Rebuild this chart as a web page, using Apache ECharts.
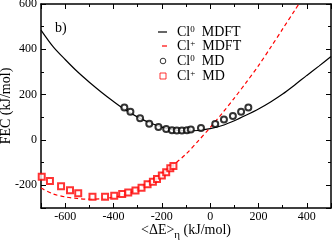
<!DOCTYPE html>
<html>
<head>
<meta charset="utf-8">
<script src="https://cdn.jsdelivr.net/npm/echarts@6/dist/echarts.min.js"></script>
<style>
html,body{margin:0;padding:0;background:#fff;}
#c{width:332px;height:241px;}
</style>
</head>
<body>
<div id="c"></div>
<script>
// ---- data ----
const curveX = [-700,-650,-600,-550,-500,-450,-400,-350,-300,-250,-200,-150,-100,-50,0,50,100,150,200,250,300,350,400,450,500];
const cl0Mdft = [485,412,355,302,255,211,170,132,101,76,57,45,40,42,50,64,85,110,137,168,203,243,285,326,368];
const clpMdft = [-212,-238,-251,-258,-261,-259,-253,-240,-218,-180,-146,-108,-62,-5,55,118,185,255,328,408,490,572,655,null,null];

const cl0MdX = [-355,-330,-290,-252,-214,-182,-158,-138,-117,-96,-80,-38,21,57,94,128,158];
const cl0MdY = [143,125,96,72,57,48,43,42,42,43,46,53,71,90,106,125,143];

const clpMdX = [-697,-663,-617,-580,-546,-487,-435,-397,-364,-339,-309,-284,-259,-237,-220,-200,-182,-165,-152];
const clpMdY = [-162,-181,-204,-222,-235,-250,-250,-246,-238,-232,-223,-211,-195,-184,-172,-157,-142,-125,-115];

const legendNames = ['Cl0 MDFT','Cl+ MDFT','Cl0 MD','Cl+ MD'];

const xMin = -700, xMax = 500, yMin = -300, yMax = 600;
const minorStep = 100;

function zip(xs, ys){ const out=[]; for(let i=0;i<xs.length;i++){ if(ys[i]!==null) out.push([xs[i], ys[i]]); } return out; }

const FONT = 'Liberation Serif';
const axisLineStyle = {color:'#000', width:1.5};
function majorLabel(v){ return (v % 200 === 0) ? String(v) : ''; }

const chart = echarts.init(document.getElementById('c'), null, {renderer:'canvas'});
const gridRect = {left:41, right:1, top:4, bottom:33, containLabel:false, outerBoundsMode:'none'};

// legend built from graphic elements
const legRowY = [32, 46, 61, 76];
const legText = legendNames.map(function(n){
  const p = n.split(' ');
  return '{a|Cl}{sup|' + p[0].slice(2) + '}{a|  ' + p[1] + '}';
});
const richLeg = {
  a:{fontFamily:FONT, fontSize:14, fill:'#000', color:'#000', lineHeight:14, verticalAlign:'middle'},
  sup:{fontFamily:FONT, fontSize:9, fill:'#000', color:'#000', lineHeight:9, verticalAlign:'top'}
};
const graphics = [
  {type:'text', left:55, top:21, z:10, style:{text:'b)', font:'14px "Liberation Serif"', fill:'#000'}},
  {type:'line', z:10, shape:{x1:158, y1:legRowY[0], x2:167, y2:legRowY[0]}, style:{stroke:'#000', lineWidth:1.2}},
  {type:'line', z:10, shape:{x1:162, y1:legRowY[1], x2:167, y2:legRowY[1]}, style:{stroke:'#ff0000', lineWidth:1.2}},
  {type:'circle', z:10, shape:{cx:163, cy:legRowY[2], r:2.8}, style:{stroke:'#000', fill:'none', lineWidth:0.8}},
  {type:'rect', z:10, shape:{x:160, y:legRowY[3]-3, width:6, height:6}, style:{stroke:'#ff0000', fill:'none', lineWidth:0.8}}
];
legText.forEach(function(t, i){
  graphics.push({type:'text', z:10, x:177, y:legRowY[i], style:{text:t, rich:richLeg, verticalAlign:'middle', align:'left'}});
});

const option = {
  animation:false,
  backgroundColor:'#fff',
  grid:[Object.assign({}, gridRect), Object.assign({}, gridRect)],
  xAxis:[
    {type:'value', gridIndex:0, min:xMin, max:xMax, position:'bottom',
     axisLine:{show:true, onZero:false, lineStyle:axisLineStyle},
     axisTick:{show:true, inside:true, length:5, lineStyle:{color:'#000', width:1}},
     axisLabel:{show:true, formatter:majorLabel, color:'#000', fontFamily:FONT, fontSize:12, margin:3, showMinLabel:true, showMaxLabel:true},
     splitLine:{show:false},
     name:'{a|<ΔE>}{sub|η}{a| (kJ/mol)}', nameLocation:'middle', nameGap:15, nameMoveOverlap:false,
     nameTextStyle:{rich:{
       a:{fontFamily:FONT, fontSize:14, color:'#000', lineHeight:14, verticalAlign:'top'},
       sub:{fontFamily:FONT, fontSize:11, color:'#000', lineHeight:18, verticalAlign:'bottom'}
     }}
    },
    {type:'value', gridIndex:0, min:xMin, max:xMax, position:'top',
     axisLine:{show:true, onZero:false, lineStyle:axisLineStyle},
     axisTick:{show:true, inside:true, length:5, lineStyle:{color:'#000', width:1}},
     axisLabel:{show:false}, splitLine:{show:false}
    },
    {type:'value', gridIndex:1, min:xMin, max:xMax, interval:minorStep, position:'bottom',
     axisLine:{show:false, onZero:false},
     axisTick:{show:true, inside:true, length:3, lineStyle:{color:'#000', width:1}},
     axisLabel:{show:false}, splitLine:{show:false}
    },
    {type:'value', gridIndex:1, min:xMin, max:xMax, interval:minorStep, position:'top',
     axisLine:{show:false, onZero:false},
     axisTick:{show:true, inside:true, length:3, lineStyle:{color:'#000', width:1}},
     axisLabel:{show:false}, splitLine:{show:false}
    }
  ],
  yAxis:[
    {type:'value', gridIndex:0, min:yMin, max:yMax, position:'left',
     axisLine:{show:true, onZero:false, lineStyle:axisLineStyle},
     axisTick:{show:true, inside:true, length:5, lineStyle:{color:'#000', width:1}},
     axisLabel:{show:true, formatter:majorLabel, color:'#000', fontFamily:FONT, fontSize:12, margin:4},
     splitLine:{show:false},
     name:'FEC (kJ/mol)', nameLocation:'middle', nameGap:28, nameRotate:90, nameMoveOverlap:false,
     nameTextStyle:{fontFamily:FONT, fontSize:14, color:'#000'}
    },
    {type:'value', gridIndex:0, min:yMin, max:yMax, position:'right',
     axisLine:{show:true, onZero:false, lineStyle:axisLineStyle},
     axisTick:{show:true, inside:true, length:5, lineStyle:{color:'#000', width:1}},
     axisLabel:{show:false}, splitLine:{show:false}
    },
    {type:'value', gridIndex:1, min:yMin, max:yMax, interval:minorStep, position:'left',
     axisLine:{show:false, onZero:false},
     axisTick:{show:true, inside:true, length:3, lineStyle:{color:'#000', width:1}},
     axisLabel:{show:false}, splitLine:{show:false}
    },
    {type:'value', gridIndex:1, min:yMin, max:yMax, interval:minorStep, position:'right',
     axisLine:{show:false, onZero:false},
     axisTick:{show:true, inside:true, length:3, lineStyle:{color:'#000', width:1}},
     axisLabel:{show:false}, splitLine:{show:false}
    }
  ],
  graphic:graphics,
  series:[
    {name:legendNames[0], type:'line', xAxisIndex:0, yAxisIndex:0, data:zip(curveX, cl0Mdft),
     smooth:0.3, symbol:'none', lineStyle:{color:'#000', width:1.2}, itemStyle:{color:'#000'}, z:3},
    {name:legendNames[1], type:'line', xAxisIndex:0, yAxisIndex:0, data:zip(curveX, clpMdft),
     smooth:0.3, symbol:'none', lineStyle:{color:'#ff0000', width:1.2, type:[4,3]}, itemStyle:{color:'#ff0000'}, z:3},
    {name:legendNames[2], type:'scatter', xAxisIndex:0, yAxisIndex:0, data:zip(cl0MdX, cl0MdY),
     symbol:'emptyCircle', symbolSize:6, itemStyle:{color:'#000', borderColor:'#000', borderWidth:0.8}, z:4},
    {name:legendNames[3], type:'scatter', xAxisIndex:0, yAxisIndex:0, data:zip(clpMdX, clpMdY),
     symbol:'emptyRect', symbolSize:6, itemStyle:{color:'#ff0000', borderColor:'#ff0000', borderWidth:0.8}, z:4}
  ]
};
chart.setOption(option);
</script>
</body>
</html>
